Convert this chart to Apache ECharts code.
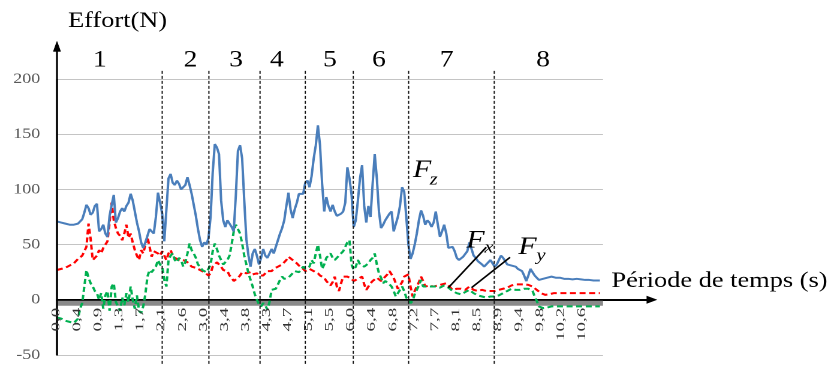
<!DOCTYPE html>
<html><head><meta charset="utf-8">
<script src="https://cdn.jsdelivr.net/npm/echarts@6/dist/echarts.min.js"></script>
<style>
html,body{margin:0;padding:0;overflow:hidden;background:#fff}
#wrap{width:831px;height:365px;overflow:hidden}
#c{width:693px;height:365px;transform:scaleX(1.19913);transform-origin:0 0}
</style>
</head><body><div id="wrap"><div id="c"></div></div>
<script>
// ---- data (one sample every 0.0425 s, 10 samples per tick label) ----
const tickLabels = ['0,0','0,4','0,9','1,3','1,7','2,1','2,6','3,0','3,4','3,8','4,3','4,7','5,1','5,5','6,0','6,4','6,8','7,2','7,7','8,1','8,5','8,9','9,4','9,8','10,2','10,6'];

const fz = [
71,70,70,69,69,68,68,68,68,68,
69,70,73,79,86,83,77,79,85,87,
62,64,68,60,57,76,86,95,70,74,
80,83,80,85,88,96,90,80,70,62,
52,47,52,58,64,62,60,75,97,88,
78,53,82,110,114,106,104,108,105,100,
100,104,111,104,96,86,76,64,54,48,
52,50,56,75,115,141,138,132,90,72,
66,72,72,66,62,95,135,140,128,90,
55,40,30,42,46,40,32,38,46,40,
38,42,46,42,48,54,60,65,72,85,
97,82,74,82,88,96,95,96,106,108,
102,112,128,140,158,140,105,80,93,85,
80,86,80,76,75,78,80,88,120,110,
95,66,72,90,110,122,85,70,85,75,
105,132,110,80,65,68,72,75,78,80,
62,62,75,85,102,98,75,50,37,42,
50,60,72,81,76,68,72,70,66,70,
80,68,57,62,68,60,47,46,48,44,
38,36,37,39,40,44,52,46,40,38,
35,34,32,30,31,34,36,33,30,32,
36,40,38,35,32,31,31,30,30,28,
27,26,22,17,22,28,25,22,20,18,
18,19,19,20,20,21,20,20,19,20,
19.5,19,19,19,19,18.5,18.5,19,18.5,18.5,
18.5,18,18,18,18,17.5,17.5,17.5,17.5
];

const fx = [
27,27,28,28,29,30,31,32,33,35,
37,38,40,44,48,69,55,36,38,40,
45,42,47,50,53,70,88,72,65,60,
58,54,60,68,56,60,52,45,40,36,
45,42,50,57,48,39,44,45,42,40,
44,40,36,42,45,40,38,37,36,36,
36,35,34,33,30,30,29,28,27,26,
25,24,22,24,30,32,34,33,30,27,
28,26,22,20,17,18,20,22,25,25,
24,24,25,23,24,24,22,21,22,21,
26,27,26,28,29,30,31,32,34,36,
39,38,36,35,33,31,30,28,26,25,
28,27,26,25,24,22,21,20,17,15,
13,16,21,12,8,15,21,20,21,21,
19,17,17,19,20,21,14,9,12,15,
17,18,20,19,17,18,21,23,26,27,
20,15,10,9,16,21,22,23,12,3,
8,12,16,21,17,12,12,13,12,12,
12,13,14,14,15,15,13,11,9,9,
10,11,10,9,9,10,12,11,9,8,
8,8,9,9,8,8,8,8,8,9,
9,9,10,10,11,12,13,14,14,14,
14,14,14,13.5,13.5,13,12,11,9,8,
6,5,4.5,5,5,5.5,6,6,6,6,
6,6,6,6,6,6,6,6,6,6,
6,6,6,6,6,6,6,6,6
];

const fy = [
-16,-17,-17,-18,-19,-20,-20,-21,-21,-22,
-17,-8,-3,12,27,20,15,12,8,6,
0,6,-8,4,8,-10,12,15,-2,-6,
-10,2,-5,6,-2,12,0,-8,4,-10,
-12,-6,5,21,27,25,24,30,36,32,
30,18,12,36,40,42,36,34,38,36,
30,34,42,51,45,42,38,32,30,27,
27,25,28,32,44,51,46,40,36,32,
32,36,40,50,62,68,69,60,51,40,
32,24,18,12,5,0,-4,-6,-3,-5,
-9,-2,9,8,10,14,18,21,19,18,
20,22,24,26,27,25,24,30,28,27,
30,36,33,42,50,40,28,32,38,40,
42,38,36,38,40,42,44,48,52,54,
32,27,30,36,32,31,30,30,33,36,
38,42,32,24,20,15,17,18,14,12,
8,3,6,9,12,8,2,0,-3,-1,
5,9,13,18,12,11,12,11,12,13,
12,11,11,12,13,12,11,10,8,7,
6,5,5,6,7,8,9,8,6,5,
4,3,3,2,2,2,3,3,3,4,
4,5,6,7,8,9,10,10,9,9,
9,9,10,10,10,9,8,3,-1,-6,
-7,-7.5,-7.5,-7,-6,-6,-5.5,-6,-6,-6,
-6,-6,-6,-6,-6,-6,-6,-6,-6,-6,
-6,-6,-6,-6,-6,-6,-6,-6,-6
];

// period boundaries, in sample index units
const periodBounds = [0, 50, 72.2, 96.5, 118, 140.8, 167.1, 207.8, 259.5];
const periodNames = ['1','2','3','4','5','6','7','8'];

// ---- layout (not data) ----
const SPL = 10;                 // samples per tick label
const X_MAX = 259.5;
const periodLabelNudge = [-4.6, 2.4, 0.75, -2.75, 0.3, -0.95, -2.25, -2.65];
const serif = 'Liberation Serif';
const hiddenAxis = (gi, extra) => Object.assign({gridIndex: gi, type: 'value', min: 0, max: 1, show: false}, extra || {});

const chart = echarts.init(document.getElementById('c'), null, {renderer: 'canvas', devicePixelRatio: 2});

chart.setOption({
  animation: false,
  grid: [
    {left: 47.5, right: 190.1, top: 79, bottom: 10},      // plot
    {left: 47.5, right: 190.1, top: 46.5, bottom: 10},    // y axis with arrow
    {left: 47.5, right: 149.3, top: 79, bottom: 65.2}     // x axis (zero line) with arrow
  ],
  xAxis: [
    {gridIndex: 0, type: 'value', min: 0, max: X_MAX, interval: SPL,
     axisLine: {show: false}, axisTick: {show: false}, axisLabel: {show: false}, splitLine: {show: false}},
    hiddenAxis(1),
    {gridIndex: 2, type: 'value', min: 0, max: 1,
     axisLine: {show: true, onZero: false, symbol: ['none', 'triangle'], symbolSize: [8, 9], lineStyle: {color: '#000', width: 2}},
     axisTick: {show: false}, axisLabel: {show: false}, splitLine: {show: false}}
  ],
  yAxis: [
    {gridIndex: 0, type: 'value', min: -50, max: 200, interval: 50,
     axisLine: {show: false}, axisTick: {show: false},
     axisLabel: {color: '#595959', fontFamily: serif, fontSize: 15, margin: 14},
     splitLine: {lineStyle: {color: '#c4c4c4', width: 1}}},
    {gridIndex: 1, type: 'value', min: 0, max: 1, position: 'left',
     axisLine: {show: true, onZero: false, symbol: ['none', 'triangle'], symbolSize: [6, 10], lineStyle: {color: '#000', width: 1.4}},
     axisTick: {show: false}, axisLabel: {show: false}, splitLine: {show: false}},
    hiddenAxis(2)
  ],
  series: [
    {name: 'Fz', type: 'line', symbol: 'none', z: 4, data: fz.map((v, i) => [i, v]),
     lineStyle: {color: '#4a7ebb', width: 2},
     markLine: {silent: true, symbol: ['none', 'none'], label: {show: false}, animation: false,
                lineStyle: {color: '#000', width: 1.4, type: 'solid'}, data: [{xAxis: 0}]}},
    {name: 'Fx', type: 'line', symbol: 'none', z: 3, data: fx.map((v, i) => [i, v]),
     lineStyle: {color: '#ff0000', width: 2, type: [5, 3]}},
    {name: 'Fy', type: 'line', symbol: 'none', z: 3, data: fy.map((v, i) => [i, v]),
     lineStyle: {color: '#00b050', width: 2, type: [5, 3]}}
  ]
});

// pixel mapping from two in-range reference points, extrapolated linearly
const A = chart.convertToPixel({gridIndex: 0}, [0, 0]);
const B = chart.convertToPixel({gridIndex: 0}, [100, 100]);
const kx = (B[0] - A[0]) / 100, ky = (B[1] - A[1]) / 100;
const P = (x, y) => [A[0] + kx * x, A[1] + ky * y];

const g = [];
const o = P(0, 0);
const xEnd = P(X_MAX, 0);
const yTop = P(0, 234);
const yBot = P(0, -50);

// grey band under zero line
g.push({type: 'rect', z: 1, shape: {x: o[0], y: o[1] + 1, width: xEnd[0] - o[0], height: 5}, style: {fill: '#8a8a8a'}});

// period separators (the y axis is drawn the same way, solid, with an arrow head)
g.push({type: 'line', z: 5, shape: {x1: o[0], y1: yBot[1], x2: o[0], y2: yTop[1] + 8}, style: {stroke: '#000', lineWidth: 1.4, lineDash: [2000, 1]}});
g.push({type: 'polygon', z: 5, shape: {points: [[o[0], yTop[1]], [o[0] - 3, yTop[1] + 10], [o[0] + 3, yTop[1] + 10]]}, style: {fill: '#000', stroke: '#000', lineWidth: 0.5}});
for (let k = 1; k < periodBounds.length - 1; k++) {
  const a = P(periodBounds[k], 207.4), b = P(periodBounds[k], -59);
  g.push({type: 'line', z: 5, shape: {x1: a[0], y1: a[1], x2: b[0], y2: b[1]}, style: {stroke: '#111', lineWidth: 1, lineDash: [3, 2]}});
}
// period numbers
for (let k = 0; k < periodNames.length; k++) {
  const mid = (periodBounds[k] + periodBounds[k + 1]) / 2 + periodLabelNudge[k];
  const p = P(mid, 0);
  g.push({type: 'text', z: 10, x: p[0], y: 60.5,
    style: {text: periodNames[k], fontFamily: serif, fontSize: 23, fill: '#000', align: 'center', verticalAlign: 'middle'}});
}
// x tick labels (rotated)
tickLabels.forEach((t, k) => {
  const p = P(k * SPL, 0);
  g.push({type: 'text', z: 10, x: p[0] - 0.5, y: p[1] + 8, rotation: Math.PI / 2, scaleY: 0.5,
    style: {text: t, fontFamily: serif, fontSize: 19, fill: '#333', align: 'right', verticalAlign: 'middle'}});
});
// titles
g.push({type: 'text', z: 10, x: o[0] + 9.2, y: 21,
  style: {text: 'Effort(N)', fontFamily: serif, fontSize: 22, fill: '#000', align: 'left', verticalAlign: 'middle'}});
g.push({type: 'text', z: 10, x: xEnd[0] + 7, y: 281,
  style: {text: 'Période de temps (s)', fontFamily: serif, fontSize: 22, fill: '#000', align: 'left', verticalAlign: 'middle'}});

// series annotations
const ann = [
  {F: [173.5, 117.3], s: [179, 108.3], sub: 'z'},
  {F: [198.9, 53.2], s: [205.3, 46.9], sub: 'x', lead: [[186, 11], [204, 47.6]]},
  {F: [223.6, 47.4], s: [230, 39.7], sub: 'y', lead: [[197, 11], [215.3, 38.5]]}
];
ann.forEach(a => {
  const pf = P(a.F[0], a.F[1]), ps = P(a.s[0], a.s[1]);
  g.push({type: 'text', z: 10, x: pf[0], y: pf[1],
    style: {text: 'F', fontFamily: serif, fontStyle: 'italic', fontSize: 25, fill: '#000', align: 'center', verticalAlign: 'middle'}});
  g.push({type: 'text', z: 10, x: ps[0], y: ps[1],
    style: {text: a.sub, fontFamily: serif, fontStyle: 'italic', fontSize: 17, fill: '#000', align: 'center', verticalAlign: 'middle'}});
  if (a.lead) {
    const l1 = P(a.lead[0][0], a.lead[0][1]), l2 = P(a.lead[1][0], a.lead[1][1]);
    g.push({type: 'line', z: 10, shape: {x1: l1[0], y1: l1[1], x2: l2[0], y2: l2[1]}, style: {stroke: '#000', lineWidth: 1.5}});
  }
});

chart.setOption({graphic: {elements: g}});
</script>
</body></html>
